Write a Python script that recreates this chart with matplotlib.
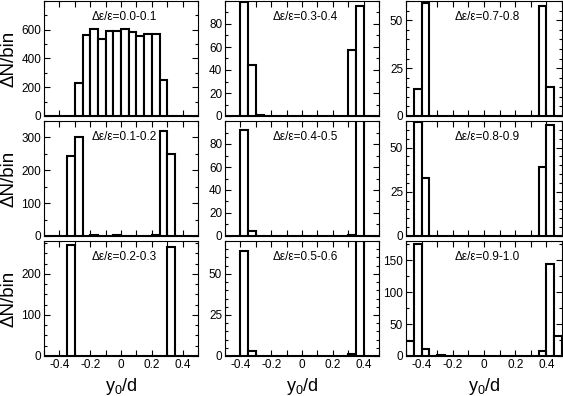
import matplotlib
matplotlib.use("Agg")
import matplotlib.pyplot as plt
from matplotlib.ticker import MultipleLocator, FixedLocator, FuncFormatter

plt.rcParams['font.family'] = ['Liberation Sans', 'DejaVu Sans']
plt.rcParams['axes.unicode_minus'] = False

# bins of y0/d (left edges), width 0.05
bin_left = [-0.50, -0.45, -0.40, -0.35, -0.30, -0.25, -0.20, -0.15, -0.10, -0.05,
            0.00, 0.05, 0.10, 0.15, 0.20, 0.25, 0.30, 0.35, 0.40, 0.45]
bin_width = 0.05

# counts per bin for each delta-eps/eps interval
n_00_01 = [0, 0, 0, 0, 233, 565, 607, 533, 593, 588, 603, 583, 558, 570, 570, 248, 0, 0, 0, 0]
n_01_02 = [0, 0, 0, 245, 301, 0, 2, 0, 0, 3, 0, 0, 0, 0, 4, 320, 249, 0, 0, 0]
n_02_03 = [0, 0, 0, 270, 0, 0, 1, 0, 0, 0, 0, 0, 0, 0, 0, 0, 266, 0, 0, 0]
n_03_04 = [0, 0, 99, 44, 1, 0, 0, 0, 0, 0, 0, 0, 0, 0, 0, 0, 57, 96, 0, 0]
n_04_05 = [0, 0, 92, 4, 0, 0, 0, 0, 0, 0, 0, 0, 0, 0, 0, 0, 1, 120, 0, 0]
n_05_06 = [0, 0, 64, 3, 0, 0, 0, 0, 0, 0, 0, 0, 0, 0, 0, 0, 1, 70, 0, 0]
n_07_08 = [0, 14, 59, 0, 0, 0, 0, 0, 0, 0, 0, 0, 0, 0, 0, 0, 0, 57.5, 15, 0]
n_08_09 = [0, 64.5, 33, 0, 0, 0, 0, 0, 0, 0, 0, 0, 0, 0, 0, 0, 0, 39, 63, 0]
n_09_10 = [23, 176, 11.5, 0, 1, 0, 0, 0, 0, 0, 0, 0, 0, 0, 0, 0, 0, 8, 144, 31]

labels = ["0.0-0.1", "0.1-0.2", "0.2-0.3",
          "0.3-0.4", "0.4-0.5", "0.5-0.6",
          "0.7-0.8", "0.8-0.9", "0.9-1.0"]
counts = [n_00_01, n_01_02, n_02_03,
          n_03_04, n_04_05, n_05_06,
          n_07_08, n_08_09, n_09_10]
# (ymax, minor step, labelled ticks)
yscales = [(800, 100, [0, 200, 400, 600]),
           (350, 50, [0, 100, 200, 300]),
           (280, 25, [0, 100, 200]),
           (100, 10, [0, 20, 40, 60, 80]),
           (100, 10, [0, 20, 40, 60, 80]),
           (70, 5, [0, 25, 50]),
           (60, 5, [0, 25, 50]),
           (65, 5, [0, 25, 50]),
           (180, 25, [0, 50, 100, 150])]

W, H = 563, 396
fig = plt.figure(figsize=(W / 100, H / 100), dpi=100)

col_left = [44, 225, 406]
col_width = [154, 154, 156]
row_top = [1, 121, 241]
row_height = 115

for k in range(9):
    col, row = k // 3, k % 3
    x0 = col_left[col] / W
    y0 = 1 - (row_top[row] + row_height) / H
    ax = fig.add_axes([x0, y0, col_width[col] / W, row_height / H])

    ax.bar(bin_left, counts[k], width=bin_width, align='edge',
           facecolor='white', edgecolor='black', linewidth=1.5)

    ymax, minor, ticks = yscales[k]
    ax.set_xlim(-0.5, 0.5)
    ax.set_ylim(0, ymax)
    ax.yaxis.set_major_locator(FixedLocator(ticks))
    ax.yaxis.set_minor_locator(MultipleLocator(minor))
    ax.xaxis.set_major_locator(MultipleLocator(0.2))
    ax.xaxis.set_minor_locator(MultipleLocator(0.1))
    ax.xaxis.set_major_formatter(FuncFormatter(lambda v, p: f"{v:g}" if abs(v) > 1e-9 else "0"))

    ax.tick_params(which='both', direction='in', top=True, right=True,
                   labelsize=8.5, width=0.8, pad=2)
    ax.tick_params(axis='y', which='major', length=4)
    ax.tick_params(axis='y', which='minor', length=2.2)
    ax.tick_params(axis='x', which='both', length=4)
    for s in ax.spines.values():
        s.set_linewidth(0.8)

    if row < 2:
        ax.tick_params(axis='x', labelbottom=False)
    else:
        ax.set_xlabel(r"$\mathregular{y_0/d}$", fontsize=13)
        ax.xaxis.set_label_coords(0.5, -0.17)

    if col == 0:
        ax.set_ylabel("ΔN/bin", fontsize=13.5)
        ax.yaxis.set_label_coords(-0.17, 0.5)

    ax.text(0.52, 0.86, "Δε/ε=" + labels[k], transform=ax.transAxes,
            ha='center', va='center', fontsize=8.5)

fig.savefig("out.png", dpi=100)
